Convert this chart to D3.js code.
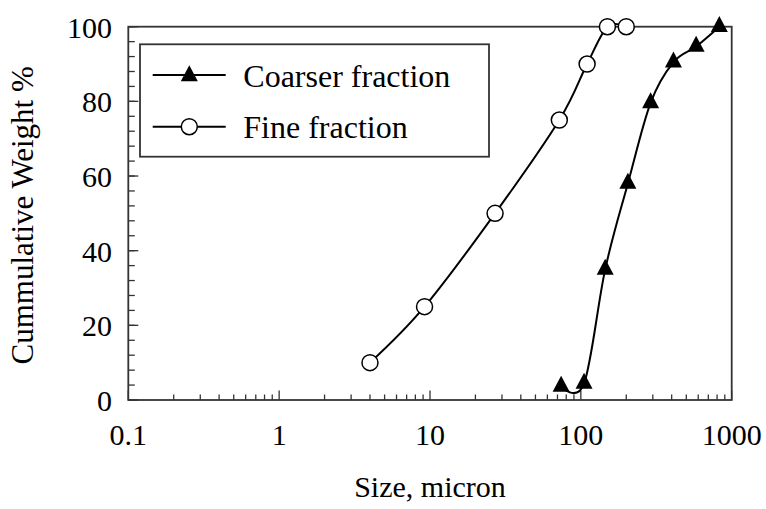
<!DOCTYPE html>
<html>
<head>
<meta charset="utf-8">
<script src="https://cdn.jsdelivr.net/npm/d3@7"></script>
<style>
  html, body { margin: 0; padding: 0; background: #fff; }
  svg { display: block; font-family: "Liberation Serif", "Times New Roman", serif; }
</style>
</head>
<body>
<svg id="chart" width="766" height="509"></svg>
<script>
// ---- data ----
const fineSize = [4, 9.2, 27, 72, 110, 150, 200];
const fineWeight = [10, 25, 50, 75, 90, 100, 100];
const coarseSize = [74, 105, 145, 205, 290, 411, 581, 828];
const coarseWeight = [3.6, 4.4, 35, 58, 79.6, 90.5, 94.7, 100];
const xTickValues = [0.1, 1, 10, 100, 1000];
const xTickLabels = ["0.1", "1", "10", "100", "1000"];
const yTickValues = [0, 20, 40, 60, 80, 100];
const seriesNames = ["Coarser fraction", "Fine fraction"];
const xTitle = "Size, micron";
const yTitle = "Cummulative Weight %";

(function () {
// ---- layout ----
const svg = d3.select("#chart");
const pL = 128.3, pR = 731.7, pT = 26.7, pB = 400;
const x = d3.scaleLog().domain([0.1, 1000]).range([pL, pR]);
const y = d3.scaleLinear().domain([0, 100]).range([pB, pT]);
const axisColor = "#333";

// minor/major ticks x (inward)
const xMinor = [];
for (let e = -1; e < 3; e++) for (let k = 2; k <= 9; k++) xMinor.push(k * Math.pow(10, e));
svg.append("g").selectAll("line").data(xMinor).join("line")
  .attr("x1", d => x(d)).attr("x2", d => x(d))
  .attr("y1", pB).attr("y2", pB - 5.5)
  .attr("stroke", axisColor).attr("stroke-width", 1.3);
svg.append("g").selectAll("line").data(xTickValues).join("line")
  .attr("x1", d => x(d)).attr("x2", d => x(d))
  .attr("y1", pB).attr("y2", pB - 9.5)
  .attr("stroke", axisColor).attr("stroke-width", 1.3);

// y ticks every 4, major every 20
const yMinor = d3.range(0, 101, 4);
svg.append("g").selectAll("line").data(yMinor).join("line")
  .attr("x1", pL).attr("x2", pL + 6.5)
  .attr("y1", d => y(d)).attr("y2", d => y(d))
  .attr("stroke", axisColor).attr("stroke-width", 1.3);
svg.append("g").selectAll("line").data(yTickValues).join("line")
  .attr("x1", pL).attr("x2", pL + 10)
  .attr("y1", d => y(d)).attr("y2", d => y(d))
  .attr("stroke", axisColor).attr("stroke-width", 1.3);

// frame
svg.append("rect").attr("x", pL).attr("y", pT)
  .attr("width", pR - pL).attr("height", pB - pT)
  .attr("fill", "none").attr("stroke", axisColor).attr("stroke-width", 1.8);

// tick labels
svg.append("g").selectAll("text").data(xTickValues).join("text")
  .attr("x", d => x(d)).attr("y", 445)
  .attr("text-anchor", "middle").attr("font-size", 30).attr("fill", "#000")
  .text((d, i) => xTickLabels[i]);
svg.append("g").selectAll("text").data(yTickValues).join("text")
  .attr("x", 112).attr("y", d => y(d) + 11)
  .attr("text-anchor", "end").attr("font-size", 30).attr("fill", "#000")
  .text(d => d);

// axis titles
svg.append("text").attr("x", (pL + pR) / 2).attr("y", 497)
  .attr("text-anchor", "middle").attr("font-size", 30).text(xTitle);
svg.append("text")
  .attr("transform", `translate(33,${(pT + pB) / 2 + 2}) rotate(-90)`)
  .attr("text-anchor", "middle").attr("font-size", 31).text(yTitle);

// lines
const line = d3.line().x(d => x(d[0])).y(d => y(d[1])).curve(d3.curveCardinal.tension(0));
const fine = fineSize.map((s, i) => [s, fineWeight[i]]);
const coarse = coarseSize.map((s, i) => [s, coarseWeight[i]]);
svg.append("path").datum(coarse).attr("d", line)
  .attr("fill", "none").attr("stroke", "#000").attr("stroke-width", 2);
svg.append("path").datum(fine).attr("d", line)
  .attr("fill", "none").attr("stroke", "#000").attr("stroke-width", 2);

// markers (triangle: 17 wide, 16 tall, centroid-centred)
const tri = "M0,-10.7L8.5,5.3L-8.5,5.3Z";
svg.append("g").selectAll("path").data(coarse).join("path")
  .attr("transform", d => `translate(${x(d[0])},${y(d[1])})`)
  .attr("d", tri).attr("fill", "#000");
svg.append("g").selectAll("circle").data(fine).join("circle")
  .attr("cx", d => x(d[0])).attr("cy", d => y(d[1])).attr("r", 8)
  .attr("fill", "#fff").attr("stroke", "#000").attr("stroke-width", 1.5);

// legend
const lg = svg.append("g");
lg.append("rect").attr("x", 140).attr("y", 44.3).attr("width", 349).attr("height", 112.4)
  .attr("fill", "#fff").attr("stroke", axisColor).attr("stroke-width", 1.8);
const legY = [75, 126.7];
seriesNames.forEach((name, i) => {
  lg.append("line").attr("x1", 152.7).attr("x2", 225.7).attr("y1", legY[i]).attr("y2", legY[i])
    .attr("stroke", "#000").attr("stroke-width", 2);
  if (i === 0) {
    lg.append("path").attr("transform", `translate(189.3,${legY[i] + 1})`).attr("d", tri).attr("fill", "#000");
  } else {
    lg.append("circle").attr("cx", 189.3).attr("cy", legY[i]).attr("r", 8)
      .attr("fill", "#fff").attr("stroke", "#000").attr("stroke-width", 1.5);
  }
  lg.append("text").attr("x", 243.3).attr("y", legY[i] + 11.5)
    .attr("font-size", 32).attr("fill", "#000").text(name);
});
})();
</script>
</body>
</html>
